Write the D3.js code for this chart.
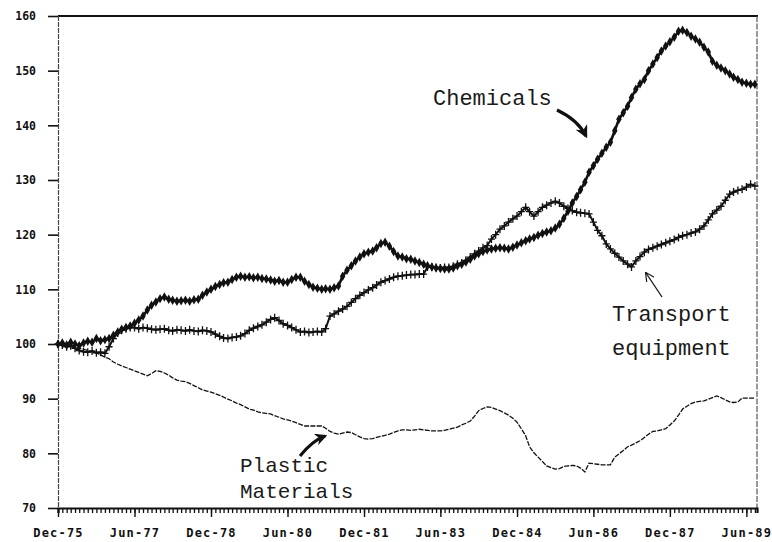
<!DOCTYPE html>
<html>
<head>
<meta charset="utf-8">
<script src="https://cdn.jsdelivr.net/npm/d3@7"></script>
<style>
  html, body { margin: 0; padding: 0; background: #fff; }
  svg { display: block; }
</style>
</head>
<body>
<div id="chart"></div>
<script>
// ---- data (monthly index values, Dec-75 = 100) ----
const startYear = 1975, startMonth = 11; // Dec 1975
const chemicals = [
  100, 100.2, 99.8, 100.3, 100, 99.7, 100.2, 100.5, 100.3, 101, 100.6, 100.8,
  101, 101.6, 102.2, 102.7, 103, 103.3, 103.8, 104.4, 105.1, 106.2, 107.1, 107.7,
  108.3, 108.6, 108.2, 108, 107.8, 107.9, 108, 107.8, 108.1, 108.2, 108.9, 109.5,
  110, 110.5, 110.9, 111.2, 111.3, 111.8, 112.2, 112.4, 112.2, 112.3, 112.1, 112.2,
  112, 111.9, 111.7, 111.5, 111.6, 111.3, 111.3, 111.8, 112.2, 112.2, 111.5, 110.9,
  110.4, 110.2, 110, 110.1, 110, 110.3, 110.6, 112.4, 113.5, 114.3, 115.2, 115.9,
  116.5, 116.8, 117, 117.6, 118.4, 118.6, 117.9, 116.9, 116.1, 115.9, 115.6, 115.5,
  115.2, 114.9, 114.6, 114.3, 114.1, 113.9, 113.8, 113.7, 113.7, 113.9, 114.3, 114.6,
  115, 115.5, 116.1, 116.5, 116.9, 117.2, 117.4, 117.5, 117.6, 117.5, 117.4, 117.7,
  118.1, 118.5, 118.9, 119.2, 119.5, 119.9, 120.2, 120.5, 120.7, 121.2, 121.9, 123,
  124.3, 125.8, 127, 128.2, 129.6, 131.4, 132.6, 133.8, 134.9, 136, 136.9, 139,
  141.1, 142.3, 143.5, 145.1, 146.6, 147.6, 148.4, 150, 151.2, 152.4, 153.6, 154.5,
  155.3, 156.1, 157.2, 157.4, 157, 156.3, 155.8, 155.2, 154.3, 153.4, 151.7, 151,
  150.5, 150, 149.4, 148.8, 148.4, 147.9, 147.7, 147.5, 147.5
];
const transport = [
  100, 99.8, 99.5, 99.7, 99.2, 98.8, 98.6, 98.5, 98.7, 98.4, 98.5, 98.3,
  99.5, 101, 102, 102.5, 102.8, 103, 103, 102.8, 103, 102.9, 102.7, 102.6,
  102.7, 102.8, 102.5, 102.4, 102.6, 102.5, 102.4, 102.6, 102.4, 102.3, 102.5, 102.4,
  102.2, 101.8, 101.4, 101.1, 101, 101.2, 101.3, 101.5, 101.9, 102.5, 102.9, 103.2,
  103.5, 104, 104.5, 104.8, 104.3, 103.7, 103.4, 103, 102.6, 102.2, 102.3, 102.1,
  102.2, 102.3, 102.2, 102.8, 105.1, 105.5, 106, 106.4, 106.9, 107.6, 108.3, 108.9,
  109.4, 109.9, 110.3, 110.8, 111.3, 111.6, 111.9, 112.2, 112.4, 112.5, 112.6, 112.7,
  112.7, 112.8, 112.8, 114.1, 114.1, 114, 113.9, 114, 114, 114.2, 114.6, 114.8,
  115.3, 115.9, 116.5, 117, 117.6, 118, 119.2, 120, 121, 121.6, 122.3, 122.9,
  123.4, 124.2, 125, 124.2, 123.4, 124.2, 125, 125.4, 125.8, 126.1, 125.8, 125.2,
  124.8, 124.4, 124.1, 124, 123.9, 123.8, 122.3, 120.8, 119.8, 118.3, 117.4, 116.6,
  115.9, 115.2, 114.6, 114.1, 115.2, 116, 116.8, 117.3, 117.6, 117.9, 118.2, 118.5,
  118.8, 119.1, 119.5, 119.8, 120, 120.3, 120.5, 121, 121.6, 122.7, 123.8, 124.5,
  125.2, 126.3, 127.4, 127.8, 128.1, 128.3, 128.7, 129.2, 128.9
];
const plastics = [
  100, 99.8, 99.7, 99.5, 99.4, 99.2, 99, 98.8, 98.6, 98.4, 98, 97.6,
  97.3, 96.7, 96.3, 96, 95.7, 95.4, 95.1, 94.8, 94.5, 94.2, 94.6, 95.1,
  95, 94.7, 94.3, 93.8, 93.4, 93.2, 93.1, 92.8, 92.4, 92, 91.6, 91.4,
  91.2, 90.9, 90.6, 90.3, 89.9, 89.6, 89.2, 88.9, 88.5, 88.1, 87.9, 87.6,
  87.4, 87.3, 87.2, 86.9, 86.6, 86.3, 86.1, 85.9, 85.6, 85.3, 85, 85,
  85, 85, 85, 84.6, 84, 83.7, 83.5, 83.7, 83.9, 83.8, 83.4, 83,
  82.7, 82.6, 82.7, 82.9, 83.1, 83.3, 83.5, 83.8, 84.1, 84.3, 84.3, 84.2,
  84.3, 84.4, 84.3, 84.2, 84.1, 84.1, 84.1, 84.2, 84.4, 84.6, 84.8, 85.2,
  85.5, 85.9, 86.8, 87.8, 88.2, 88.5, 88.4, 88.1, 87.8, 87.4, 87, 86.4,
  85.7, 84.5, 83.2, 81.2, 80.1, 79.3, 78.5, 77.7, 77.4, 77.1, 77.2, 77.6,
  77.7, 77.8, 77.7, 77.3, 76.6, 78.2, 78.1, 78, 77.9, 77.9, 77.9, 79.3,
  79.9, 80.5, 81.2, 81.5, 81.9, 82.3, 82.9, 83.5, 84, 84.1, 84.3, 84.5,
  85.2, 85.9, 87, 88.1, 88.6, 89.1, 89.4, 89.5, 89.6, 89.9, 90.2, 90.5,
  90.2, 89.8, 89.4, 89.3, 89.4, 90.1, 90.1, 90.1, 90.1
];
const yTicks = [70, 80, 90, 100, 110, 120, 130, 140, 150, 160];
const xTickLabels = ["Dec-75", "Jun-77", "Dec-78", "Jun-80", "Dec-81", "Jun-83", "Dec-84", "Jun-86", "Dec-87", "Jun-89"];
const labels = { chemicals: "Chemicals", transport: ["Transport", "equipment"], plastics: ["Plastic", "Materials"] };

// ---- setup ----
const W = 772, H = 542;
const mLeft = 58, mRight = 757, mTop = 16, mBottom = 508;
const svg = d3.select("#chart").append("svg").attr("width", W).attr("height", H);

const monthDate = i => new Date(startYear, startMonth + i, 1);
const x = d3.scaleTime()
  .domain([monthDate(0), new Date(1989, 7, 16)])
  .range([mLeft, mRight]);
const y = d3.scaleLinear().domain([70, 160]).range([mBottom, mTop]);

const toPts = arr => arr.map((v, i) => ({ d: monthDate(i), v }));
const chemPts = toPts(chemicals), transPts = toPts(transport), plasPts = toPts(plastics);
const line = d3.line().x(p => x(p.d)).y(p => y(p.v));

// ---- frame ----
svg.append("line").attr("x1", mLeft).attr("x2", mRight + 1).attr("y1", mTop).attr("y2", mTop)
  .attr("stroke", "#111").attr("stroke-width", 2);
svg.append("line").attr("x1", mRight).attr("x2", mRight).attr("y1", mTop).attr("y2", mBottom)
  .attr("stroke", "#555").attr("stroke-width", 1.2).attr("stroke-dasharray", "6,1.5");

// ---- y axis ----
const yAxis = svg.append("g").attr("transform", `translate(${mLeft},0)`)
  .call(d3.axisLeft(y).tickValues(yTicks).tickSize(10).tickPadding(12).tickFormat(d3.format("d")));
yAxis.select(".domain").attr("stroke", "#444").attr("stroke-width", 1.2).attr("stroke-dasharray", "5,1");
yAxis.selectAll(".tick line").attr("stroke", "#111").attr("stroke-width", 1.6);
yAxis.selectAll("text").attr("font-family", "DejaVu Sans Mono").attr("font-weight", "bold")
  .attr("font-size", "11.5px").attr("fill", "#111");

// ---- x axis: monthly minor ticks ----
const minorTicks = d3.range(0, 165).map(monthDate);
const xMinor = svg.append("g").attr("transform", `translate(0,${mBottom})`)
  .call(d3.axisBottom(x).tickValues(minorTicks).tickSize(5).tickFormat(""));
xMinor.select(".domain").attr("stroke", "#111").attr("stroke-width", 2.2);
xMinor.selectAll(".tick line").attr("stroke", "#111").attr("stroke-width", 1.3);

const majorTicks = xTickLabels.map((_, k) => monthDate(18 * k));
const xMajor = svg.append("g").attr("transform", `translate(0,${mBottom})`)
  .call(d3.axisBottom(x).tickValues(majorTicks).tickSize(9).tickPadding(11)
    .tickFormat((d, i) => xTickLabels[i]));
xMajor.select(".domain").remove();
xMajor.selectAll(".tick line").attr("stroke", "#111").attr("stroke-width", 1.4);
xMajor.selectAll("text").attr("font-family", "DejaVu Sans Mono").attr("font-weight", "bold")
  .attr("font-size", "12px").attr("letter-spacing", "1.2px").attr("fill", "#111");

// ---- series ----
// Plastic Materials: thin line
svg.append("path").datum(plasPts).attr("d", line)
  .attr("fill", "none").attr("stroke", "#111").attr("stroke-width", 1.3)
  .attr("stroke-dasharray", "5,1.3");

// Transport equipment: line with + markers
svg.append("path").datum(transPts).attr("d", line)
  .attr("fill", "none").attr("stroke", "#111").attr("stroke-width", 2);
svg.append("g").selectAll("path").data(transPts).join("path")
  .attr("transform", p => `translate(${x(p.d)},${y(p.v)})`)
  .attr("d", "M-3.5,0H3.5M0,-4V4")
  .attr("stroke", "#111").attr("stroke-width", 1.3).attr("fill", "none");

// Chemicals: thick line with diamond markers
svg.append("path").datum(chemPts).attr("d", line)
  .attr("fill", "none").attr("stroke", "#111").attr("stroke-width", 2.6);
svg.append("g").selectAll("path").data(chemPts).join("path")
  .attr("transform", p => `translate(${x(p.d)},${y(p.v)})`)
  .attr("d", d3.symbol(d3.symbolDiamond, 26))
  .attr("fill", "#111");

// ---- annotations ----
const defs = svg.append("defs");
defs.append("marker").attr("id", "headFill").attr("viewBox", "0 0 10 10")
  .attr("refX", 8).attr("refY", 5).attr("markerWidth", 4).attr("markerHeight", 4)
  .attr("orient", "auto-start-reverse")
  .append("path").attr("d", "M0,0L10,5L0,10L3,5Z").attr("fill", "#111");
defs.append("marker").attr("id", "headOpen").attr("viewBox", "0 0 10 10")
  .attr("refX", 9).attr("refY", 5).attr("markerWidth", 9).attr("markerHeight", 9)
  .attr("markerUnits", "userSpaceOnUse")
  .attr("orient", "auto")
  .append("path").attr("d", "M0,0L10,5L0,10").attr("fill", "none").attr("stroke", "#111").attr("stroke-width", 1.3);

const txt = (t, tx, ty, fs) => svg.append("text").attr("x", tx).attr("y", ty).text(t)
  .attr("font-family", "Liberation Mono").attr("font-size", (fs || 22) + "px").attr("fill", "#1a1a1a");

txt(labels.chemicals, 433, 105);
svg.append("path").attr("d", "M557,110 Q578,120 586,136")
  .attr("fill", "none").attr("stroke", "#111").attr("stroke-width", 3.2)
  .attr("marker-end", "url(#headFill)");

txt(labels.transport[0], 612, 321);
txt(labels.transport[1], 612, 355);
svg.append("path").attr("d", "M662,297 L646,273")
  .attr("fill", "none").attr("stroke", "#111").attr("stroke-width", 1.3)
  .attr("marker-end", "url(#headOpen)");

txt(labels.plastics[0], 240, 472, 21);
txt(labels.plastics[1], 240, 498, 21);
svg.append("path").attr("d", "M300,456 Q312,441 325,436")
  .attr("fill", "none").attr("stroke", "#111").attr("stroke-width", 3)
  .attr("marker-end", "url(#headFill)");
</script>
</body>
</html>
